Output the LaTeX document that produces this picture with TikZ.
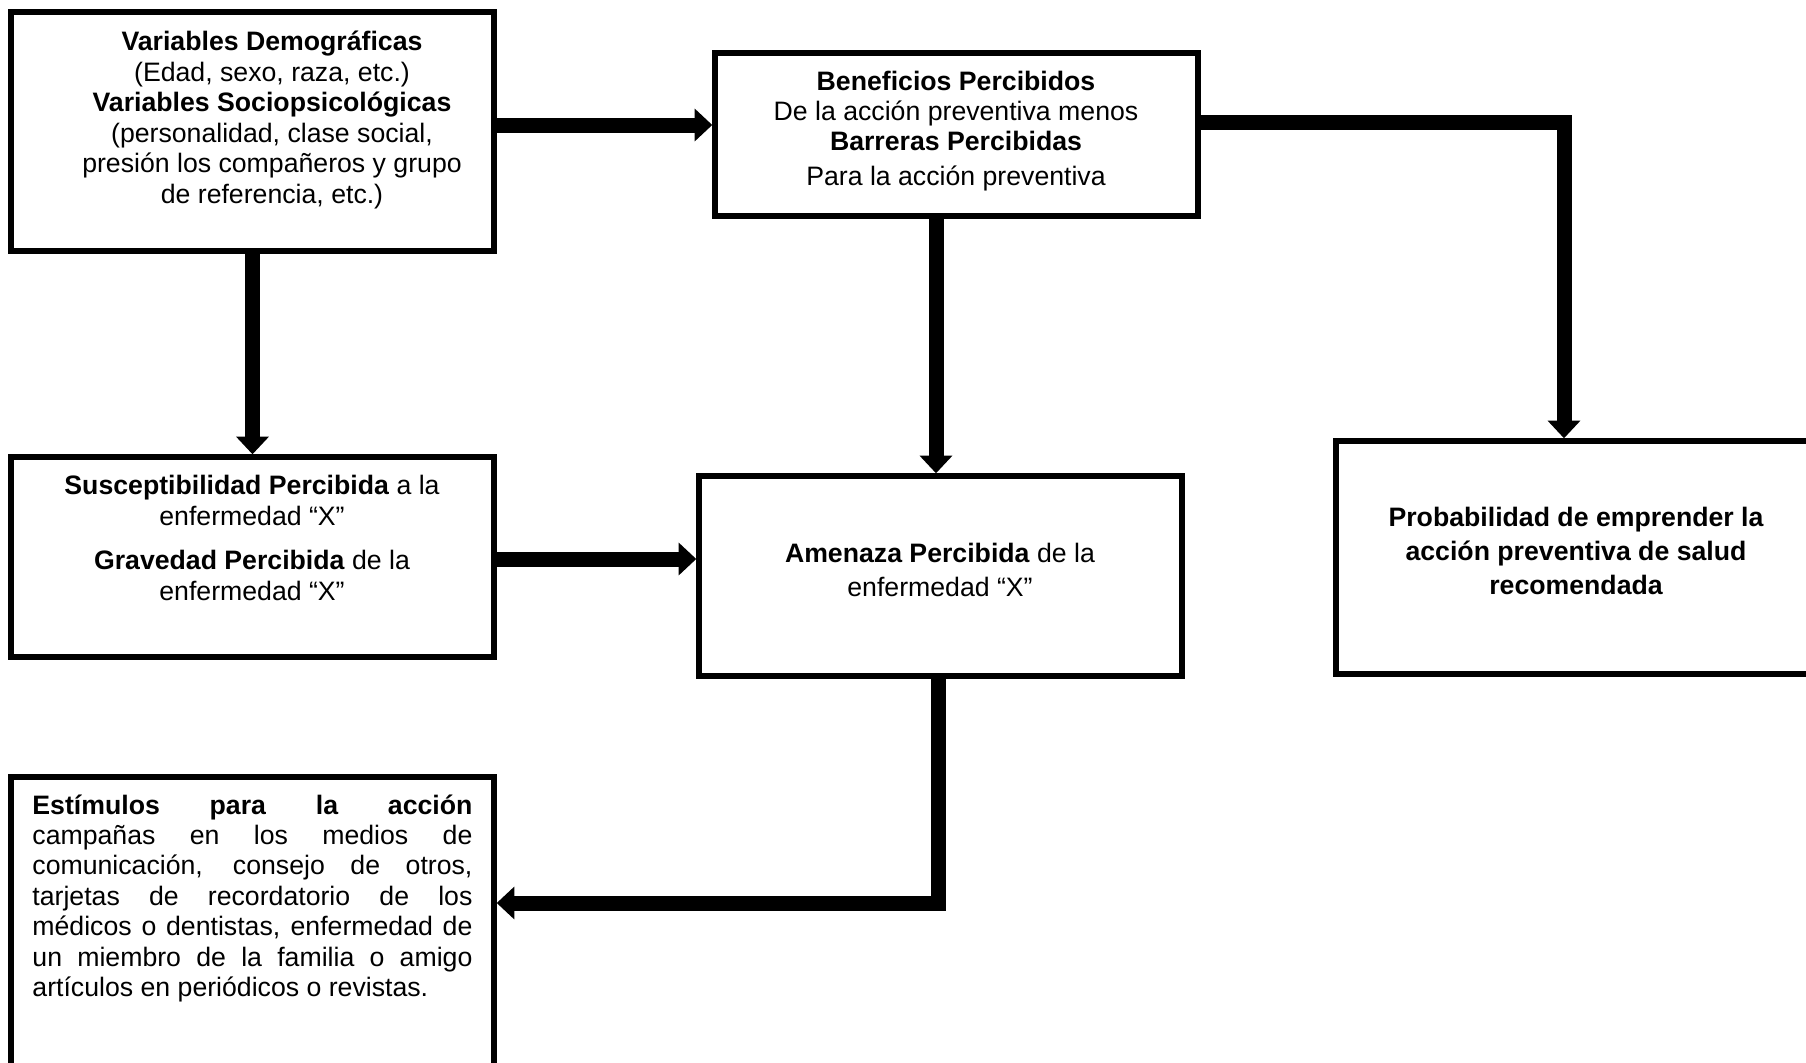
\documentclass[tikz,border=0pt]{standalone}
\usepackage{fontspec}
\setmainfont{Liberation Sans}
\usetikzlibrary{arrows.meta,fit}
\tikzset{
  box/.style={draw, line width=2.5pt, inner sep=0pt},
  arr/.style={line width=6.75pt, -{Triangle[width=14.8pt,length=7.9pt,line width=0pt]}},
  txt/.style={align=center, inner sep=0pt, font=\fontsize{12}{13.7}\selectfont},
}
\begin{document}
\begin{tikzpicture}[x=0.45pt,y=-0.45pt]
\useasboundingbox (0,0) rectangle (1806,1063);
\clip (0,0) rectangle (1806,1063);
% boxes
\node[box, fit={(11,12)(494,251)}] (vars) {};
\node[box, fit={(715,53)(1198,216)}] (benef) {};
\node[box, fit={(11,457)(494,657)}] (susc) {};
\node[box, fit={(699,476)(1182,676)}] (amen) {};
\node[box, fit={(1336,441)(1850,674)}] (prob) {};
\node[box, fit={(11,777)(494,1100)}] (estim) {};
% texts
\node[txt] (varsT) at (272,120) {\textbf{Variables Demográficas}\\(Edad, sexo, raza, etc.)\\\textbf{Variables Sociopsicológicas}\\(personalidad, clase social,\\presión los compañeros y grupo\\de referencia, etc.)};
\node[txt] (benefT) at (956,131) {\textbf{Beneficios Percibidos}\\De la acción preventiva menos\\\textbf{Barreras Percibidas}\\[2pt]Para la acción preventiva};
\node[txt] (suscT) at (252,538) {\textbf{Susceptibilidad Percibida} a la\\enfermedad “X”\\[6.5pt]\textbf{Gravedad Percibida} de la\\enfermedad “X”};
\node[txt] (amenT) at (940,570) {\textbf{Amenaza Percibida} de la\\[1.6pt]enfermedad “X”};
\node[txt, font=\fontsize{12}{15.5}\selectfont\bfseries] (probT) at (1576,551) {Probabilidad de emprender la\\acción preventiva de salud\\recomendada};
\node[txt, align=left, anchor=north west] (estimT) at (32,794) {%
\makebox[198pt][s]{\textbf{Estímulos para la acción}}\\
\makebox[198pt][s]{campañas en los medios de}\\
\makebox[198pt][s]{comunicación, consejo de otros,}\\
\makebox[198pt][s]{tarjetas de recordatorio de los}\\
\makebox[198pt][s]{médicos o dentistas, enfermedad de}\\
\makebox[198pt][s]{un miembro de la familia o amigo}\\
artículos en periódicos o revistas.};
% connectors
\draw[arr] (vars.east |- 0,125) -- (benef.west |- 0,125);
\draw[arr] (vars.south) -- (susc.north);
\draw[arr] (benef.south -| 936,0) -- (amen.north -| 936,0);
\draw[arr] (benef.east |- 0,122) -| (prob.north -| 1564,0);
\draw[arr] (susc.east |- 0,559) -- (amen.west |- 0,559);
\draw[arr] (amen.south -| 938,0) |- (estim.east |- 0,903);
\end{tikzpicture}
\end{document}
